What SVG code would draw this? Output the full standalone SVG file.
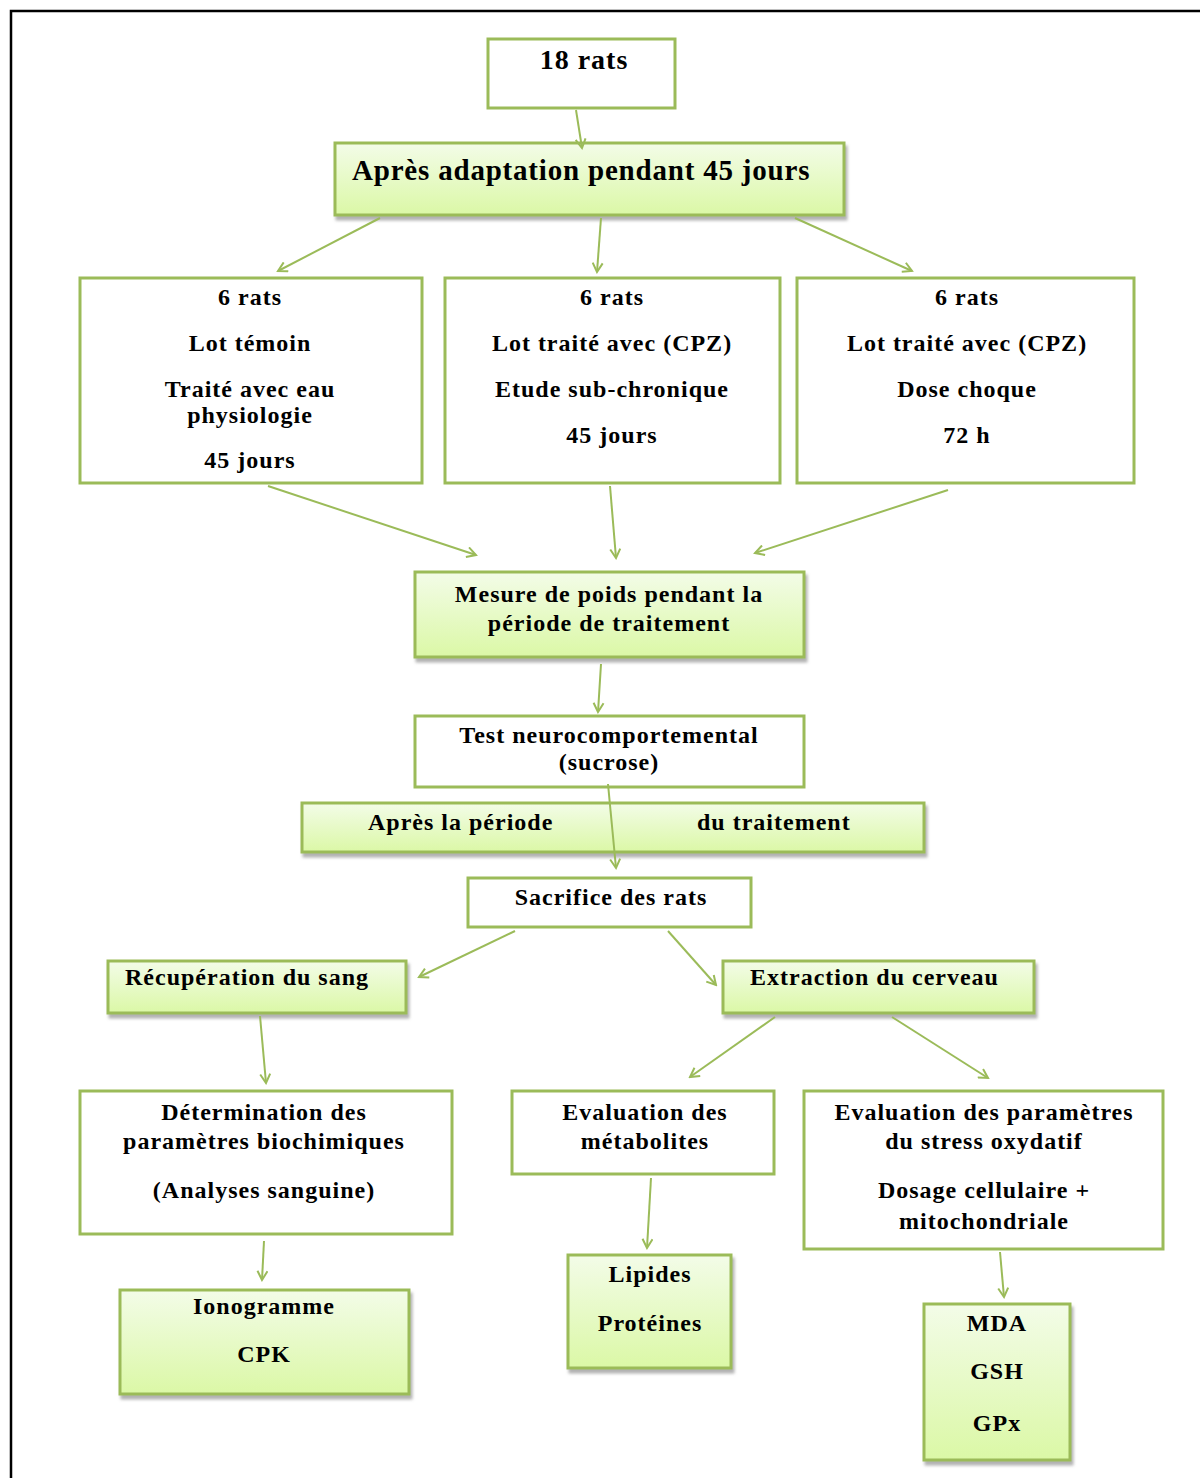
<svg xmlns="http://www.w3.org/2000/svg" width="1200" height="1478" viewBox="0 0 1200 1478">
<defs>
<linearGradient id="g" x1="0" y1="0" x2="0" y2="1">
<stop offset="0" stop-color="#f3fce8"/>
<stop offset="1" stop-color="#dbf8a6"/>
</linearGradient>
<filter id="sh" x="-5%" y="-10%" width="115%" height="130%">
<feDropShadow dx="2" dy="4" stdDeviation="1.5" flood-color="#7f7f7f" flood-opacity="0.6"/>
</filter>
<marker id="ah" viewBox="0 0 12 12" refX="10" refY="6" markerWidth="12" markerHeight="12" markerUnits="userSpaceOnUse" orient="auto">
<path d="M1,1 L10,6 L1,11" fill="none" stroke="#9bbb59" stroke-width="2"/>
</marker>
<style>
.b{fill:#fff;stroke:#9bbb59;stroke-width:3}
.gb{fill:url(#g);stroke:#9bbb59;stroke-width:3;filter:url(#sh)}
text{font-weight:bold;font-size:24px;fill:#000;letter-spacing:1px}
.c{text-anchor:middle}
.cn line{stroke:#9bbb59;stroke-width:2;marker-end:url(#ah)}
</style>
</defs>
<rect x="0" y="0" width="1200" height="1478" fill="#fff"/>
<path d="M11,1478 V11 H1200" fill="none" stroke="#000" stroke-width="2.5"/>
<g font-family="'Liberation Serif', 'DejaVu Serif', serif">
<g id="n1"><rect class="b" x="488" y="39" width="187" height="69"/><text class="c" x="584" y="69" style="font-size:28px">18 rats</text></g>
<g id="n2"><rect class="gb" x="335" y="143" width="509" height="72"/><text x="352" y="180" style="font-size:29px;letter-spacing:0.8px">Après adaptation pendant 45 jours</text></g>
<g id="n3"><rect class="b" x="80" y="278" width="342" height="205"/>
<text class="c" x="250" y="305">6 rats</text><text class="c" x="250" y="351">Lot témoin</text><text class="c" x="250" y="397">Traité avec eau</text><text class="c" x="250" y="423">physiologie</text><text class="c" x="250" y="468">45 jours</text></g>
<g id="n4"><rect class="b" x="445" y="278" width="335" height="205"/>
<text class="c" x="612" y="305">6 rats</text><text class="c" x="612" y="351">Lot traité avec (CPZ)</text><text class="c" x="612" y="397">Etude sub-chronique</text><text class="c" x="612" y="443">45 jours</text></g>
<g id="n5"><rect class="b" x="797" y="278" width="337" height="205"/>
<text class="c" x="967" y="305">6 rats</text><text class="c" x="967" y="351">Lot traité avec (CPZ)</text><text class="c" x="967" y="397">Dose choque</text><text class="c" x="967" y="443">72 h</text></g>
<g id="n6"><rect class="gb" x="415" y="572" width="389" height="85"/>
<text class="c" x="609" y="602">Mesure de poids pendant  la</text><text class="c" x="609" y="631">période de traitement</text></g>
<g id="n7"><rect class="b" x="415" y="716" width="389" height="71"/>
<text class="c" x="609" y="743">Test neurocomportemental</text><text class="c" x="609" y="770">(sucrose)</text></g>
<g id="n8"><rect class="gb" x="302" y="803" width="622" height="49"/>
<text x="368" y="830">Après la période</text><text x="697" y="830">du traitement</text></g>
<g id="n9"><rect class="b" x="468" y="878" width="283" height="49"/><text class="c" x="611" y="905">Sacrifice des rats</text></g>
<g id="n10"><rect class="gb" x="108" y="961" width="298" height="52"/><text x="125" y="985">Récupération du sang</text></g>
<g id="n11"><rect class="gb" x="723" y="961" width="311" height="52"/><text x="750" y="985">Extraction du cerveau</text></g>
<g id="n12"><rect class="b" x="80" y="1091" width="372" height="143"/>
<text class="c" x="264" y="1120">Détermination des</text><text class="c" x="264" y="1149">paramètres biochimiques</text><text class="c" x="264" y="1198">(Analyses sanguine)</text></g>
<g id="n13"><rect class="b" x="512" y="1091" width="262" height="83"/>
<text class="c" x="645" y="1120">Evaluation des</text><text class="c" x="645" y="1149">métabolites</text></g>
<g id="n14"><rect class="b" x="804" y="1091" width="359" height="158"/>
<text class="c" x="984" y="1120">Evaluation des paramètres</text><text class="c" x="984" y="1149">du stress oxydatif</text><text class="c" x="984" y="1198">Dosage cellulaire +</text><text class="c" x="984" y="1229">mitochondriale</text></g>
<g id="n15"><rect class="gb" x="120" y="1290" width="289" height="104"/>
<text class="c" x="264" y="1314">Ionogramme</text><text class="c" x="264" y="1362">CPK</text></g>
<g id="n16"><rect class="gb" x="568" y="1255" width="163" height="113"/>
<text class="c" x="650" y="1282">Lipides</text><text class="c" x="650" y="1331">Protéines</text></g>
<g id="n17"><rect class="gb" x="924" y="1304" width="146" height="156"/>
<text class="c" x="997" y="1331">MDA</text><text class="c" x="997" y="1379">GSH</text><text class="c" x="997" y="1431">GPx</text></g>
</g>
<g id="connectors" class="cn">
<line x1="576" y1="110" x2="582" y2="148"/>
<line x1="380" y1="218" x2="278" y2="271"/>
<line x1="601" y1="218" x2="597" y2="272"/>
<line x1="795" y1="218" x2="912" y2="271"/>
<line x1="268" y1="486" x2="476" y2="555"/>
<line x1="610" y1="486" x2="616" y2="558"/>
<line x1="948" y1="490" x2="755" y2="553"/>
<line x1="601" y1="664" x2="598" y2="712"/>
<line x1="608" y1="784" x2="616" y2="868"/>
<line x1="515" y1="931" x2="419" y2="977"/>
<line x1="668" y1="931" x2="716" y2="985"/>
<line x1="260" y1="1016" x2="266" y2="1083"/>
<line x1="775" y1="1017" x2="690" y2="1077"/>
<line x1="892" y1="1017" x2="988" y2="1078"/>
<line x1="264" y1="1241" x2="262" y2="1280"/>
<line x1="651" y1="1178" x2="647" y2="1248"/>
<line x1="1000" y1="1252" x2="1004" y2="1297"/>
</g>
</svg>
